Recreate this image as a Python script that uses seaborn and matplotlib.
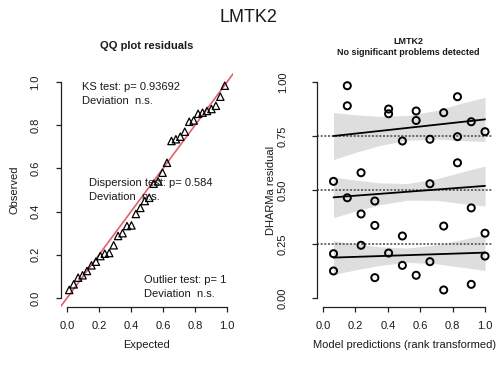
import numpy as np
import pandas as pd
import matplotlib
matplotlib.use("Agg")
import matplotlib.pyplot as plt
import seaborn as sns

# ---------------- data ----------------
pred_rank = [0.065, 0.15, 0.235, 0.32, 0.405, 0.49, 0.575, 0.66, 0.745, 0.83, 0.915, 1.0]
res_a = [0.125, 0.464, 0.244, 0.094, 0.208, 0.151, 0.105, 0.168, 0.037, 0.626, 0.063, 0.194]
res_b = [0.205, 0.890, 0.389, 0.336, 0.853, 0.287, 0.822, 0.529, 0.333, 0.747, 0.417, 0.300]
res_c = [0.540, 0.983, 0.580, 0.449, 0.875, 0.727, 0.866, 0.735, 0.858, 0.932, 0.816, 0.770]

# quantile regression lines (endpoints) and confidence bands
q_levels = [0.25, 0.5, 0.75]
q_line_x = [0.065, 1.0]
q25_line = [0.187, 0.210]
q50_line = [0.466, 0.519]
q75_line = [0.750, 0.827]
band_x = [0.065, 0.2, 0.35, 0.52, 0.7, 0.85, 1.0]
q25_lo = [0.109, 0.130, 0.151, 0.165, 0.158, 0.143, 0.127]
q25_hi = [0.265, 0.250, 0.237, 0.231, 0.246, 0.269, 0.293]
q50_lo = [0.372, 0.402, 0.431, 0.453, 0.452, 0.438, 0.426]
q50_hi = [0.560, 0.546, 0.533, 0.530, 0.552, 0.582, 0.611]
q75_lo = [0.641, 0.674, 0.706, 0.730, 0.736, 0.729, 0.725]
q75_hi = [0.859, 0.848, 0.841, 0.845, 0.868, 0.901, 0.929]

ticks01 = [0.0, 0.2, 0.4, 0.6, 0.8, 1.0]
tick01_labels = ["0.0", "0.2", "0.4", "0.6", "0.8", "1.0"]
res_ticks = [0.0, 0.25, 0.5, 0.75, 1.0]
res_tick_labels = ["0.00", "0.25", "0.50", "0.75", "1.00"]

ks_text = ["KS test: p= 0.93692", "Deviation  n.s."]
disp_text = ["Dispersion test: p= 0.584", "Deviation  n.s."]
out_text = ["Outlier test: p= 1", "Deviation  n.s."]

# ---------------- derived tables ----------------
df = pd.DataFrame({
    "pred": pred_rank * 3,
    "res": res_a + res_b + res_c,
})
observed = np.sort(df["res"].to_numpy())
n = len(observed)
expected = (np.arange(1, n + 1) - 0.5) / n  # uniform plotting positions
qq = pd.DataFrame({"Expected": expected, "Observed": observed})

# ---------------- style ----------------
sns.set_style("white")
plt.rcParams["font.family"] = ["Liberation Sans", "DejaVu Sans"]
TXT = "#1a1a1a"

W, H = 496, 365
fig = plt.figure(figsize=(W / 100, H / 100), dpi=100)


def px_axes(x0, x1, ytop, ybot):
    return fig.add_axes([x0 / W, (H - ybot) / H, (x1 - x0) / W, (ybot - ytop) / H])


ax1 = px_axes(60.6, 233.4, 73.4, 306.6)
ax2 = px_axes(316.5, 491.5, 73.4, 306.6)

for ax in (ax1, ax2):
    ax.set_xlim(-0.04, 1.04)
    ax.set_ylim(-0.04, 1.04)
    ax.set_facecolor("white")
    for s in ("top", "right"):
        ax.spines[s].set_visible(False)
    for s in ("left", "bottom"):
        ax.spines[s].set_color("#222222")
        ax.spines[s].set_linewidth(0.9)
    ax.spines["left"].set_bounds(0, 1)
    ax.spines["bottom"].set_bounds(0, 1)
    ax.tick_params(axis="both", which="both", length=3.6, width=0.9, color="#222222",
                   labelsize=8, labelcolor=TXT, left=True, bottom=True)
    ax.set_xticks(ticks01)
    ax.set_xticklabels(tick01_labels)
    ax.tick_params(axis="x", pad=7)

# ---------------- QQ plot ----------------
ax1.axline((0, 0), (1, 1), color="#e0606e", lw=1.2, zorder=1)
sns.scatterplot(data=qq, x="Expected", y="Observed", ax=ax1, marker="^", s=28,
                facecolor="none", edgecolor="black", linewidth=0.9, zorder=3, legend=False)
ax1.set_yticks(ticks01)
ax1.set_yticklabels(tick01_labels, rotation=90, va="center")
ax1.tick_params(axis="y", pad=11)
ax1.set_xlabel("")
ax1.set_ylabel("")

for lines, (px, py) in ((ks_text, (81.7, 87.3)), (disp_text, (89.3, 183.3)), (out_text, (144, 280.0))):
    for i, t in enumerate(lines):
        fig.text(px / W, (H - (py + 13.8 * i)) / H, t, fontsize=8, color=TXT, ha="left", va="center")

fig.text(146.7 / W, (H - 345) / H, "Expected", fontsize=8, color=TXT, ha="center", va="center")
fig.text(14 / W, (H - 190) / H, "Observed", fontsize=8, color=TXT, ha="center", va="center", rotation=90)
fig.text(146.5 / W, (H - 46) / H, "QQ plot residuals", fontsize=8, fontweight="bold",
         color=TXT, ha="center", va="center")

# ---------------- residual plot ----------------
bands = [(q25_lo, q25_hi, q25_line), (q50_lo, q50_hi, q50_line), (q75_lo, q75_hi, q75_line)]
for lo, hi, line in bands:
    ax2.fill_between(band_x, lo, hi, color="#dedede", lw=0, zorder=1)
for q in q_levels:
    ax2.axhline(q, color="#555555", lw=1.2, ls=(0, (1.2, 1.0)), zorder=2)
for lo, hi, line in bands:
    sns.lineplot(x=q_line_x, y=line, ax=ax2, color="black", lw=1.3, zorder=3, legend=False)
sns.scatterplot(data=df, x="pred", y="res", ax=ax2, marker="o", s=26,
                facecolor="none", edgecolor="black", linewidth=1.4, zorder=4, legend=False)
ax2.set_yticks(res_ticks)
ax2.set_yticklabels(res_tick_labels, rotation=90, va="center")
ax2.tick_params(axis="y", pad=17)
ax2.set_xlabel("")
ax2.set_ylabel("")

fig.text(405 / W, (H - 345) / H, "Model predictions (rank transformed)", fontsize=8, color=TXT,
         ha="center", va="center")
fig.text(271 / W, (H - 190) / H, "DHARMa residual", fontsize=8, color=TXT, ha="center",
         va="center", rotation=90)
fig.text(408 / W, (H - 42) / H, "LMTK2", fontsize=6.5, fontweight="bold", color=TXT,
         ha="center", va="center")
fig.text(408 / W, (H - 52.5) / H, "No significant problems detected", fontsize=6.5,
         fontweight="bold", color=TXT, ha="center", va="center")

fig.text(248 / W, (H - 18) / H, "LMTK2", fontsize=13, color=TXT, ha="center", va="center")

fig.savefig("out.png", dpi=100, facecolor="white")
